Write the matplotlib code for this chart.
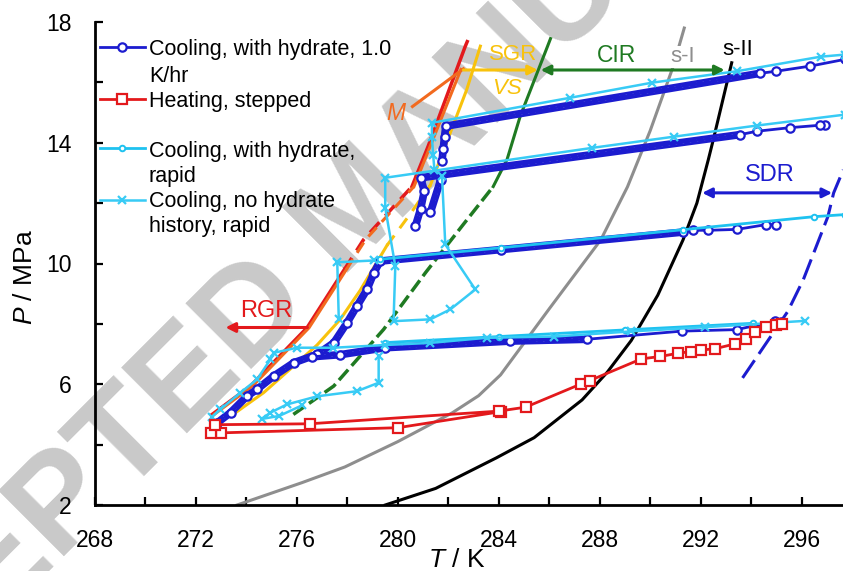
import matplotlib
matplotlib.use('Agg')
import matplotlib.pyplot as plt
import numpy as np

plt.rcParams['font.family'] = ['Liberation Sans', 'DejaVu Sans']
plt.rcParams['mathtext.fontset'] = 'custom'
plt.rcParams['mathtext.rm'] = 'Liberation Sans'
plt.rcParams['mathtext.it'] = 'Liberation Sans:italic'

# ---- data (T in K, P in MPa) ----
# hydrate equilibrium curves
sI_T = [273.63, 276.2, 277.9, 280.0, 282.15, 283.2, 284.07, 286.0, 288.04, 289.1, 290.0, 290.9, 291.35]
sI_P = [2.0, 2.74, 3.26, 4.1, 5.05, 5.62, 6.31, 8.5, 10.78, 12.54, 14.4, 16.5, 17.8]
sII_T = [279.5, 281.5, 283.9, 285.4, 287.3, 288.3, 289.25, 290.3, 291.3, 291.85, 292.3, 292.5, 293.23]
sII_P = [2.0, 2.55, 3.56, 4.23, 5.48, 6.4, 7.45, 8.95, 10.78, 12.0, 13.43, 14.1, 16.65]
sdr_T = [293.66, 295.45, 296.07, 297.04, 297.27, 297.65]
sdr_P = [6.21, 8.41, 9.47, 11.55, 12.34, 13.1]
green_T = [275.86, 277.46, 279.44, 281.1, 282.6, 283.78, 284.33, 284.85, 285.93, 286.05]
green_P = [5.0, 5.94, 7.82, 9.7, 11.3, 12.55, 13.45, 14.88, 17.19, 17.45]
yellow_T = [273.37, 274.68, 275.8, 276.8, 277.72, 278.5, 279.57, 280.5, 281.29, 282.73, 283.27]
yellow_P = [4.94, 5.72, 6.55, 7.3, 8.15, 9.1, 10.6, 11.65, 12.6, 15.76, 17.2]
red_T = [272.64, 274.16, 276.4, 277.88, 278.65, 280.56, 281.2, 282.67, 282.75]
red_P = [5.0, 5.94, 7.87, 9.8, 10.8, 12.55, 13.88, 17.19, 17.35]
orange_T = [272.72, 274.24, 276.48, 277.96, 278.73, 280.64, 281.28, 282.5]
orange_P = [5.0, 5.94, 7.87, 9.8, 10.8, 12.55, 13.88, 16.43]
m_T = [280.58, 282.6]
m_P = [15.2, 16.45]

# Cooling, with hydrate, 1.0 K/hr (four isochores + hydrate formation)
blue_a_T = [297.7, 296.35, 295.0, 294.35, 281.9, 281.85, 281.8, 281.75]
blue_a_P = [16.76, 16.54, 16.37, 16.3, 14.55, 14.2, 13.8, 13.4]
blue_b_T = [296.93, 296.73, 295.54, 294.22, 293.57, 280.9, 281.05, 280.9, 280.7]
blue_b_P = [14.6, 14.58, 14.5, 14.38, 14.27, 12.84, 12.4, 11.8, 11.25]
blue_c_T = [295.0, 294.6, 293.44, 292.3, 291.7, 291.3, 284.07, 279.3, 279.05, 278.78,
            278.38, 277.99, 277.46, 276.8, 275.87, 275.08, 274.42, 274.03, 273.37, 272.84]
blue_c_P = [11.29, 11.29, 11.13, 11.1, 11.1, 11.04, 10.46, 10.08, 9.69, 9.14,
            8.59, 8.04, 7.37, 6.99, 6.71, 6.27, 5.83, 5.61, 5.06, 4.72]
blue_d_T = [295.2, 294.94, 293.43, 291.25, 287.5, 284.46, 279.5, 277.72, 276.6]
blue_d_P = [8.05, 8.09, 7.81, 7.76, 7.49, 7.43, 7.21, 6.98, 6.91]
blue_e_T = [281.7, 281.29]
blue_e_P = [12.78, 11.69]

# Heating, stepped
heat_T = [284.07, 280.0, 273.0, 272.6, 272.75, 276.5, 284.0, 285.06, 287.26, 287.6,
          289.65, 290.4, 291.12, 291.6, 292.0, 292.58, 293.38, 293.78, 294.17, 294.58,
          294.97, 295.24]
heat_P = [5.09, 4.56, 4.39, 4.39, 4.66, 4.69, 5.11, 5.24, 6.01, 6.12,
          6.84, 6.92, 7.03, 7.08, 7.13, 7.18, 7.34, 7.51, 7.73, 7.9,
          7.95, 8.0]

# Cooling, with hydrate, rapid
rapid_c_T = [297.7, 296.48, 291.3, 284.07, 279.3]
rapid_c_P = [11.62, 11.55, 11.12, 10.52, 10.14]
rapid_d_T = [294.08, 289.0, 284.0, 279.5]
rapid_d_P = [8.02, 7.8, 7.58, 7.38]

# Cooling, no hydrate history, rapid
nohyd_1_T = [297.7, 296.75, 293.44, 290.07, 286.83, 281.35, 281.35, 281.4, 281.45]
nohyd_1_P = [16.92, 16.85, 16.37, 15.99, 15.49, 14.66, 14.2, 13.6, 13.1]
nohyd_2_T = [297.7, 294.23, 290.93, 287.7, 279.5, 279.5, 279.9, 279.83, 281.29,
             282.08, 283.07, 281.88, 281.75]
nohyd_2_P = [14.93, 14.57, 14.2, 13.83, 12.84, 11.85, 9.91, 8.09, 8.15,
             8.48, 9.14, 10.63, 12.9]
nohyd_3_T = [279.04, 277.6, 277.66]
nohyd_3_P = [10.1, 10.04, 8.15]
nohyd_4_T = [296.14, 292.16, 289.24, 286.19, 283.53, 281.29, 279.5, 277.45, 276.0,
             275.08, 274.95, 274.42, 273.76, 272.97, 272.64]
nohyd_4_P = [8.1, 7.89, 7.75, 7.58, 7.54, 7.37, 7.3, 7.21, 7.21,
             7.04, 6.82, 6.16, 5.72, 5.17, 4.92]
nohyd_5_T = [279.24, 279.24, 278.38, 276.8, 275.6, 274.95, 274.6, 275.3, 276.2]
nohyd_5_P = [6.95, 6.05, 5.77, 5.6, 5.33, 5.06, 4.85, 4.95, 5.3]

BLUE = '#1c1ccf'
RED = '#e3191c'
ORANGE = '#f26a1f'
YELLOW = '#f8c20c'
GREEN = '#1f7a22'
CYAN = '#1ec2f0'
CYAN2 = '#38cbf5'
GRAY = '#8e8e8e'

fig = plt.figure(figsize=(8.43, 5.71), dpi=100)
ax = fig.add_axes([95 / 843, 66 / 571, 748 / 843, 483 / 571])
ax.patch.set_visible(False)

# watermark
fig.text(0.426, 0.63, 'ACCEPTED MANUSCRIPT', rotation=45, fontsize=98,
         fontweight='bold', color='#c9c9c9', ha='center', va='center',
         rotation_mode='anchor', zorder=-5)

# equilibrium / boundary curves
ax.plot(sI_T, sI_P, color=GRAY, lw=2.2, zorder=2)
ax.plot(sII_T, sII_P, color='black', lw=2.2, zorder=2)
ax.plot(sdr_T, sdr_P, color=BLUE, lw=2.2, dashes=(7, 2.5), zorder=2)
ax.plot(green_T[:6], green_P[:6], color=GREEN, lw=2.5, dashes=(4, 1.5), zorder=2)
ax.plot(green_T[5:], green_P[5:], color=GREEN, lw=2.2, zorder=2)
ax.plot(yellow_T[:7], yellow_P[:7], color=YELLOW, lw=2.2, zorder=2)
ax.plot(yellow_T[6:9], yellow_P[6:9], color=YELLOW, lw=2.2, dashes=(4, 3), zorder=2)
ax.plot(yellow_T[8:], yellow_P[8:], color=YELLOW, lw=2.2, zorder=2)
ax.plot(red_T[:4], red_P[:4], color=RED, lw=2.5, zorder=3)
ax.plot(red_T[3:6], red_P[3:6], color=RED, lw=2.5, dashes=(4, 2.5), zorder=3)
ax.plot(red_T[5:], red_P[5:], color=RED, lw=2.5, zorder=3)
ax.plot(orange_T[:4], orange_P[:4], color=ORANGE, lw=2.2, zorder=3)
ax.plot(orange_T[3:6], orange_P[3:6], color=ORANGE, lw=2.2, dashes=(4, 2.5), zorder=3)
ax.plot(orange_T[5:], orange_P[5:], color=ORANGE, lw=2.2, zorder=3)
ax.plot(m_T, m_P, color=ORANGE, lw=2.2, zorder=3)

# cooling 1.0 K/hr: dense stretches drawn as thick band, sparse points as open circles
blue_runs = [(blue_a_T, blue_a_P, 3), (blue_b_T, blue_b_P, 4),
             (blue_c_T, blue_c_P, 5), (blue_d_T, blue_d_P, 4), (blue_e_T, blue_e_P, 0)]
for T, P, i0 in blue_runs:
    ax.plot(T[i0:], P[i0:], color=BLUE, lw=5.5, solid_capstyle='round', zorder=4)
    ax.plot(T[i0:], P[i0:], color='white', lw=1.5, ls=(0, (0.8, 2.6)), zorder=4.1)
    ax.plot(T, P, color=BLUE, lw=2, marker='o', ms=6, mfc='white', mec=BLUE, mew=1.6, zorder=4.2)

# rapid cooling runs
for T, P in [(rapid_c_T, rapid_c_P), (rapid_d_T, rapid_d_P)]:
    ax.plot(T, P, color=CYAN, lw=2, marker='o', ms=4, mfc='white', mec=CYAN, mew=1.4, zorder=5)
for T, P in [(nohyd_1_T, nohyd_1_P), (nohyd_2_T, nohyd_2_P), (nohyd_3_T, nohyd_3_P),
             (nohyd_4_T, nohyd_4_P), (nohyd_5_T, nohyd_5_P)]:
    ax.plot(T, P, color=CYAN2, lw=1.8, marker='x', ms=6, mew=1.6, zorder=5)

# stepped heating
ax.plot(heat_T, heat_P, color=RED, lw=2, marker='s', ms=7, mfc='white', mec=RED, mew=1.6, zorder=6)

# arrows and region labels
def arrow(x0, x1, y, color, style):
    ax.annotate('', xy=(x1, y), xytext=(x0, y),
                arrowprops=dict(arrowstyle=style, color=color, lw=2.2,
                                mutation_scale=14, shrinkA=0, shrinkB=0), zorder=7)

arrow(282.6, 285.55, 16.41, YELLOW, '-|>')
arrow(285.66, 292.95, 16.41, GREEN, '<|-|>')
arrow(276.42, 273.17, 7.88, RED, '-|>')
arrow(292.06, 297.21, 12.34, BLUE, '<|-|>')

ax.text(284.57, 16.92, 'SGR', color=YELLOW, fontsize=16, ha='center', va='center', zorder=8)
ax.text(284.31, 15.79, 'VS', color=YELLOW, fontsize=16, style='italic', ha='center', va='center', zorder=8)
ax.text(288.67, 16.89, 'CIR', color=GREEN, fontsize=16.5, ha='center', va='center', zorder=8)
ax.text(291.28, 16.85, 's-I', color=GRAY, fontsize=16, ha='center', va='center', zorder=8,
        bbox=dict(facecolor='white', edgecolor='none', pad=0.5))
ax.text(293.46, 17.09, 's-II', color='black', fontsize=16, ha='center', va='center', zorder=8)
ax.text(279.9, 14.97, 'M', color=ORANGE, fontsize=16.5, style='italic', ha='center', va='center', zorder=8)
ax.text(274.8, 8.41, 'RGR', color=RED, fontsize=17, ha='center', va='center', zorder=8)
ax.text(294.75, 12.92, 'SDR', color=BLUE, fontsize=17, ha='center', va='center', zorder=8)

# axes
ax.set_xlim(268, 297.64)
ax.set_ylim(2, 18)
ax.set_xticks(np.arange(268, 297, 4))
ax.set_xticks(np.arange(270, 298, 4), minor=True)
ax.set_yticks([2, 6, 10, 14, 18])
ax.set_yticks([4, 8, 12, 16], minor=True)
ax.tick_params(which='both', direction='in', length=6, width=1.6, labelsize=16.5, pad=17)
for s in ['top', 'right']:
    ax.spines[s].set_visible(False)
for s in ['left', 'bottom']:
    ax.spines[s].set_linewidth(2)
ax.set_xlabel(r'$T$ / K', fontsize=19)
ax.xaxis.set_label_coords(0.484, -0.09)
ax.set_ylabel(r'$P$ / MPa', fontsize=19)
ax.yaxis.set_label_coords(-0.078, 0.472)

# legend, drawn by hand so handles sit on the first text line
def ax_xy(px, py):
    return (px - 95) / 748, (505 - py) / 483

legend = [
    (47, [50, 76.7], ['Cooling, with hydrate, 1.0', 'K/hr'], dict(color=BLUE, marker='o', ms=6, mfc='white', mec=BLUE, mew=1.6, lw=2)),
    (98.5, [101.7], ['Heating, stepped'], dict(color=RED, marker='s', ms=7, mfc='white', mec=RED, mew=1.6, lw=2)),
    (147.5, [151.7, 176.7], ['Cooling, with hydrate,', 'rapid'], dict(color=CYAN, marker='o', ms=4, mfc='white', mec=CYAN, mew=1.4, lw=2)),
    (200, [201.7, 226.7], ['Cooling, no hydrate', 'history, rapid'], dict(color=CYAN2, marker='x', ms=6, mew=1.6, lw=1.8)),
]
for hy, ty, lines, st in legend:
    x0, y0 = ax_xy(100, hy)
    x1, _ = ax_xy(145, hy)
    xm, _ = ax_xy(122, hy)
    ax.plot([x0, x1], [y0, y0], transform=ax.transAxes, clip_on=False,
            color=st['color'], lw=st['lw'], zorder=9)
    mk = {k: v for k, v in st.items() if k not in ('lw',)}
    ax.plot([xm], [y0], transform=ax.transAxes, clip_on=False, ls='none', zorder=9.1, **mk)
    for y, s in zip(ty, lines):
        tx, tyy = ax_xy(149, y)
        ax.text(tx, tyy, s, transform=ax.transAxes, fontsize=15.5, ha='left', va='center', zorder=9)

fig.savefig('out.png', dpi=100)
